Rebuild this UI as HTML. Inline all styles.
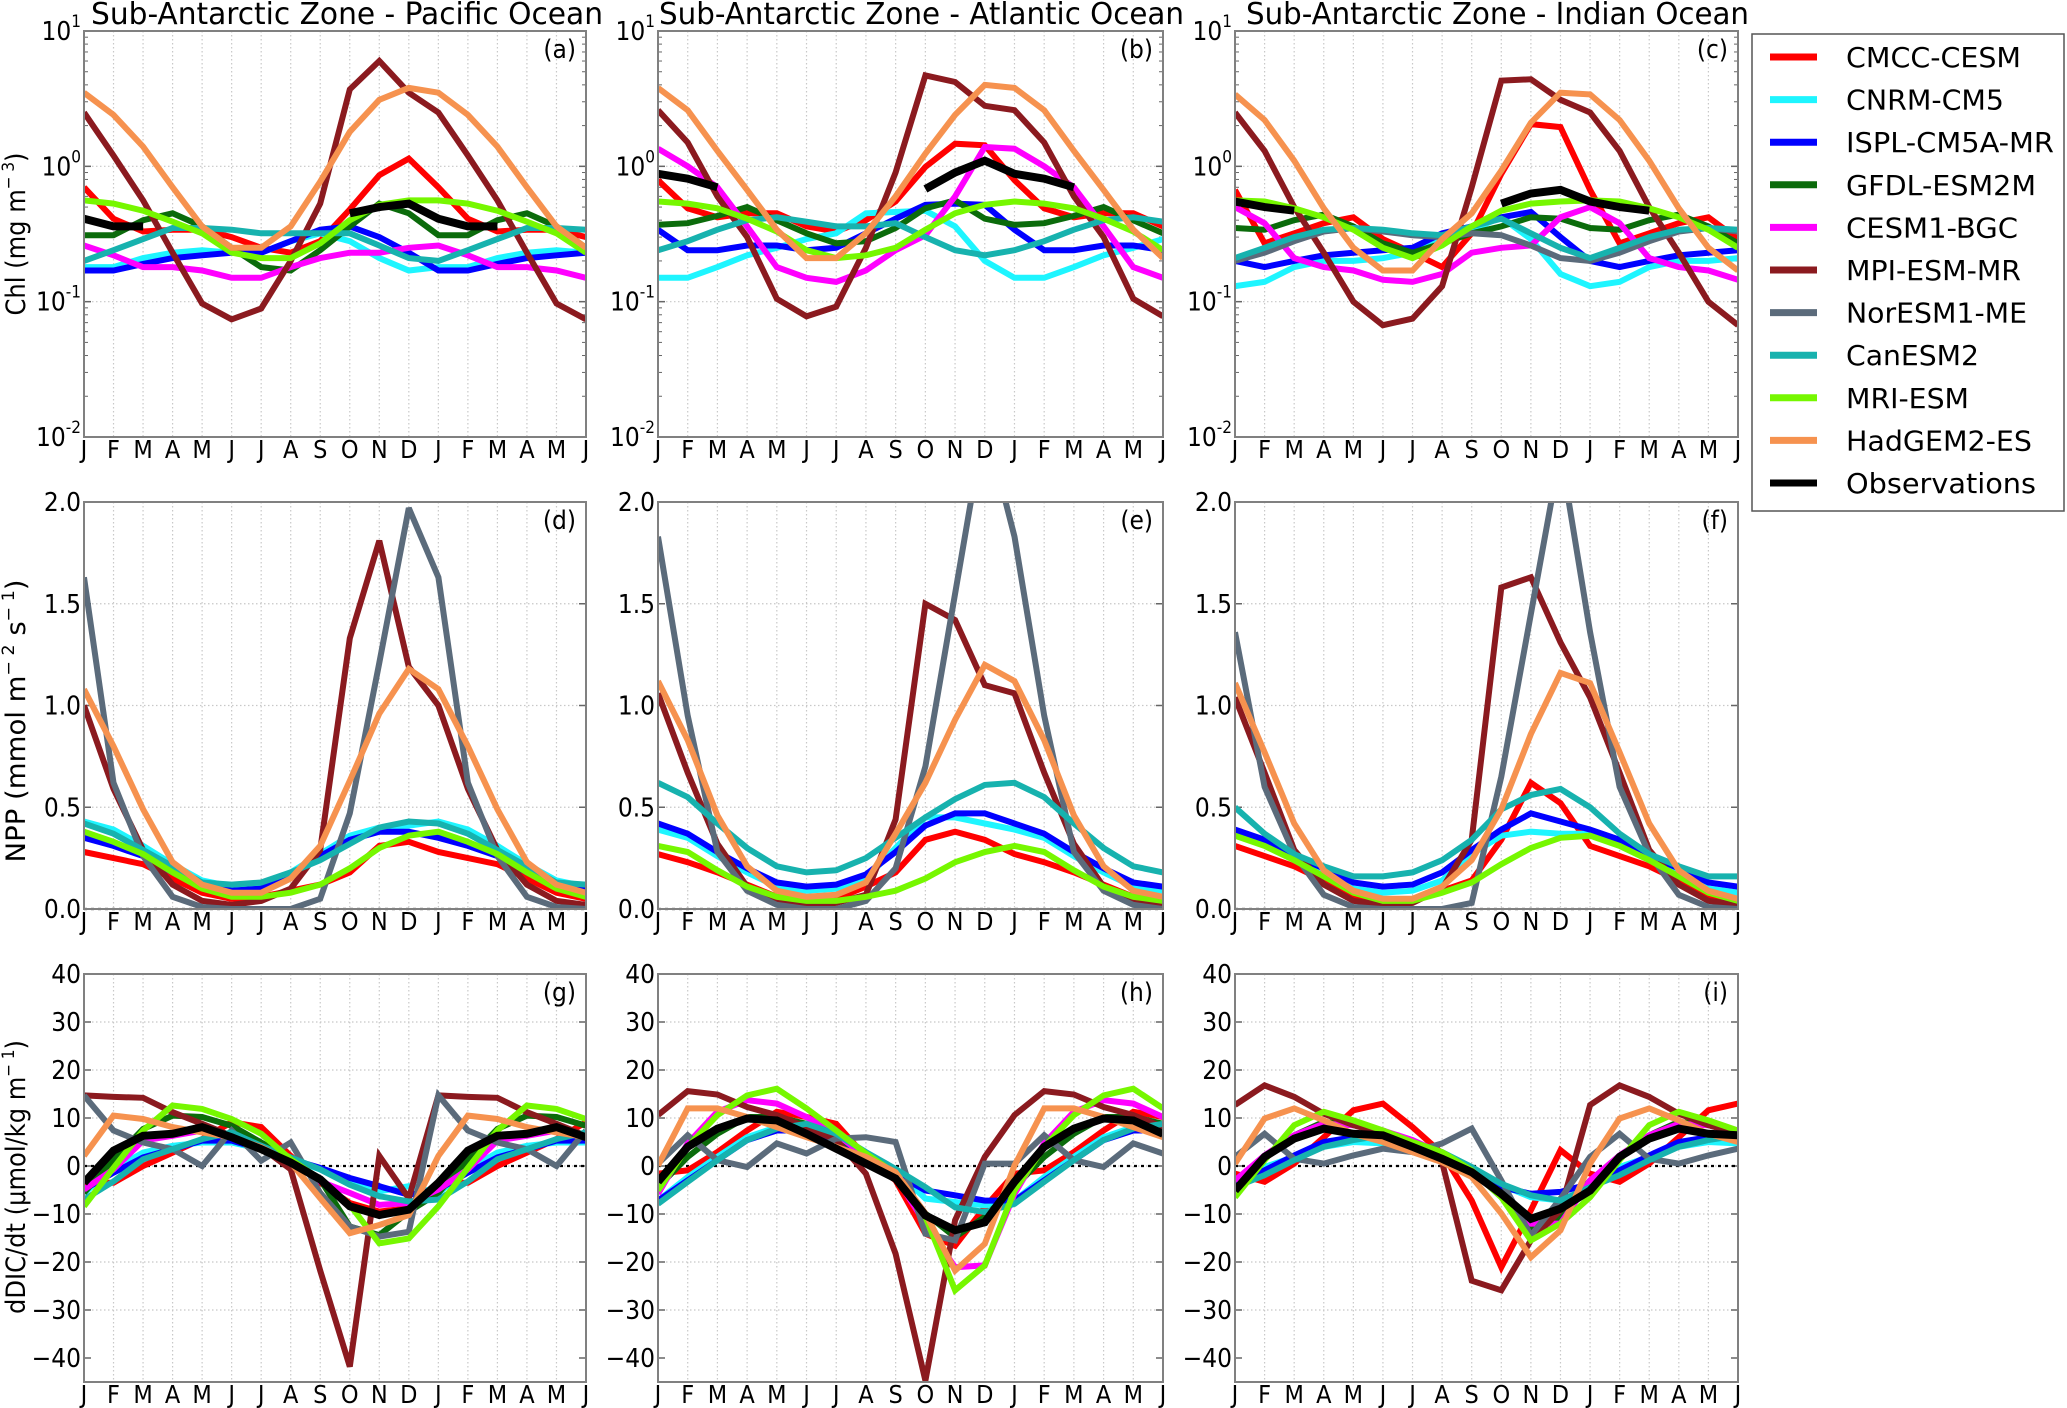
<!DOCTYPE html>
<html><head><meta charset="utf-8"><style>
html,body{margin:0;padding:0;background:#fff;}
svg{display:block;font-family:"DejaVu Sans Condensed","DejaVu Sans","Liberation Sans",sans-serif;font-stretch:condensed;}
</style></head><body>
<svg id="fig" width="2067" height="1408" viewBox="0 0 2067 1408" xmlns="http://www.w3.org/2000/svg"></svg>
<script>
const months = ['J','F','M','A','M','J','J','A','S','O','N','D','J','F','M','A','M','J'];
const models = ['CMCC-CESM','CNRM-CM5','ISPL-CM5A-MR','GFDL-ESM2M','CESM1-BGC','MPI-ESM-MR','NorESM1-ME','CanESM2','MRI-ESM','HadGEM2-ES','Observations'];
const colors = ['#ff0000','#1ef5ff','#0000ff','#0b6b0b','#ff00ff','#8b1a1f','#5b6b7b','#17b2ae','#76f700','#f6924f','#000000'];
const legendWidths = [175,158,208,190,172,175,181,133,123,186,190];
const titles = ['Sub-Antarctic Zone - Pacific Ocean','Sub-Antarctic Zone - Atlantic Ocean','Sub-Antarctic Zone - Indian Ocean'];
const panelLetters = ['(a)','(b)','(c)','(d)','(e)','(f)','(g)','(h)','(i)'];
const N = null;
// monthly values J..D, model order as in `models`
const chlPacific = [
 [0.7,0.41,0.33,0.34,0.34,0.3,0.25,0.23,0.28,0.48,0.86,1.14],
 [0.18,0.18,0.21,0.23,0.24,0.23,0.23,0.28,0.32,0.28,0.21,0.17],
 [0.17,0.17,0.19,0.21,0.22,0.23,0.23,0.28,0.34,0.36,0.3,0.23],
 [0.31,0.31,0.4,0.45,0.36,0.25,0.18,0.17,0.24,0.36,0.53,0.45],
 [0.26,0.22,0.18,0.18,0.17,0.15,0.15,0.18,0.21,0.23,0.23,0.25],
 [2.5,1.2,0.56,0.23,0.097,0.074,0.089,0.2,0.53,3.7,6.0,3.5],
 null,
 [0.2,0.24,0.29,0.35,0.35,0.34,0.32,0.32,0.32,0.32,0.26,0.21],
 [0.56,0.53,0.47,0.39,0.32,0.23,0.21,0.21,0.27,0.4,0.52,0.56],
 [3.5,2.4,1.4,0.7,0.36,0.25,0.25,0.36,0.77,1.8,3.1,3.8],
 [0.41,0.36,0.36,N,N,N,N,N,N,0.45,0.5,0.53]];
const chlAtlantic = [
 [0.79,0.49,0.42,0.45,0.45,0.36,0.33,0.4,0.55,0.99,1.47,1.43],
 [0.15,0.15,0.18,0.22,0.25,0.29,0.32,0.45,0.46,0.47,0.36,0.2],
 [0.34,0.24,0.24,0.26,0.26,0.24,0.25,0.32,0.41,0.52,0.53,0.52],
 [0.37,0.38,0.43,0.5,0.4,0.32,0.27,0.28,0.35,0.49,0.56,0.41],
 [1.35,1.0,0.7,0.36,0.18,0.15,0.14,0.17,0.24,0.31,0.6,1.39],
 [2.6,1.5,0.6,0.3,0.105,0.078,0.092,0.25,0.9,4.7,4.2,2.8],
 null,
 [0.24,0.28,0.34,0.4,0.42,0.39,0.36,0.36,0.38,0.3,0.24,0.22],
 [0.55,0.53,0.49,0.41,0.33,0.24,0.21,0.22,0.25,0.34,0.45,0.52],
 [3.8,2.6,1.3,0.67,0.34,0.21,0.21,0.32,0.6,1.24,2.4,4.0],
 [0.88,0.81,0.7,N,N,N,N,N,N,0.68,0.9,1.1]];
const chlIndian = [
 [0.67,0.27,0.32,0.38,0.42,0.29,0.23,0.18,0.32,0.88,2.05,1.95],
 [0.13,0.14,0.18,0.2,0.2,0.21,0.23,0.29,0.34,0.42,0.29,0.16],
 [0.2,0.18,0.2,0.22,0.23,0.24,0.25,0.32,0.36,0.42,0.46,0.3],
 [0.35,0.34,0.4,0.44,0.36,0.27,0.23,0.27,0.32,0.36,0.42,0.41],
 [0.5,0.38,0.21,0.18,0.17,0.145,0.14,0.16,0.23,0.25,0.26,0.42],
 [2.5,1.3,0.5,0.23,0.1,0.067,0.075,0.13,0.7,4.3,4.4,3.1],
 [0.2,0.23,0.28,0.33,0.35,0.33,0.31,0.3,0.32,0.31,0.26,0.21],
 [0.21,0.25,0.3,0.34,0.35,0.34,0.32,0.31,0.36,0.41,0.32,0.25],
 [0.56,0.55,0.49,0.42,0.34,0.25,0.21,0.26,0.36,0.47,0.53,0.55],
 [3.4,2.2,1.1,0.49,0.25,0.17,0.17,0.29,0.45,0.93,2.1,3.5],
 [0.55,0.5,0.47,N,N,N,N,N,N,0.53,0.63,0.67]];
const nppPacific = [
 [0.28,0.25,0.22,0.15,0.08,0.05,0.06,0.09,0.12,0.18,0.31,0.33],
 [0.43,0.39,0.31,0.22,0.14,0.11,0.12,0.18,0.27,0.36,0.4,0.41],
 [0.35,0.31,0.26,0.18,0.12,0.09,0.1,0.16,0.26,0.34,0.38,0.38],
 null, null,
 [1.0,0.59,0.29,0.12,0.04,0.02,0.04,0.1,0.29,1.33,1.81,1.19],
 [1.63,0.62,0.26,0.06,0.01,0,0,0,0.05,0.47,1.21,1.97],
 [0.42,0.37,0.29,0.21,0.13,0.12,0.13,0.18,0.24,0.32,0.4,0.43],
 [0.38,0.33,0.27,0.18,0.1,0.06,0.06,0.08,0.12,0.2,0.3,0.36],
 [1.08,0.8,0.49,0.23,0.12,0.08,0.08,0.15,0.31,0.63,0.96,1.18],
 null];
const nppAtlantic = [
 [0.27,0.23,0.18,0.12,0.06,0.04,0.05,0.11,0.18,0.34,0.38,0.34],
 [0.39,0.35,0.26,0.18,0.11,0.09,0.1,0.15,0.3,0.45,0.45,0.42],
 [0.42,0.37,0.28,0.2,0.13,0.11,0.12,0.17,0.28,0.41,0.47,0.47],
 null, null,
 [1.06,0.67,0.32,0.11,0.03,0.02,0.03,0.07,0.44,1.5,1.42,1.1],
 [1.83,0.95,0.28,0.09,0.02,0,0,0.04,0.2,0.7,1.55,2.4],
 [0.62,0.55,0.42,0.3,0.21,0.18,0.19,0.25,0.35,0.45,0.54,0.61],
 [0.31,0.28,0.19,0.11,0.06,0.04,0.04,0.06,0.09,0.15,0.23,0.28],
 [1.12,0.83,0.46,0.21,0.09,0.06,0.07,0.13,0.37,0.62,0.93,1.2],
 null];
const nppIndian = [
 [0.31,0.26,0.21,0.14,0.06,0.04,0.04,0.09,0.14,0.34,0.62,0.52],
 [0.37,0.32,0.24,0.18,0.1,0.08,0.09,0.14,0.27,0.36,0.38,0.37],
 [0.39,0.34,0.26,0.2,0.13,0.11,0.12,0.18,0.29,0.39,0.47,0.43],
 null, null,
 [1.04,0.67,0.29,0.12,0.04,0.02,0.03,0.1,0.34,1.58,1.63,1.31],
 [1.36,0.6,0.27,0.07,0.01,0,0,0,0.03,0.65,1.45,2.25],
 [0.5,0.37,0.27,0.21,0.16,0.16,0.18,0.24,0.34,0.49,0.56,0.59],
 [0.36,0.31,0.24,0.16,0.08,0.04,0.04,0.08,0.13,0.22,0.3,0.35],
 [1.11,0.77,0.42,0.19,0.09,0.05,0.05,0.11,0.24,0.49,0.86,1.16],
 null];
const dicPacific = [
 [-3.5,-3.5,0,2.8,5.6,9.1,8.1,2.1,-3.5,-7.7,-9.5,-8.8],
 [-5.6,-0.7,2.8,4.2,4.9,4.9,3.5,1.4,-0.7,-3.2,-5.3,-4.2],
 [-4.9,-1.4,1.8,3.5,5.3,5.3,3.5,1.4,-0.4,-2.5,-4.2,-6],
 [-5.6,1.4,7.7,10.5,10.2,8.4,4.9,1.4,-2.8,-12.6,-14.4,-9.5],
 [-4.9,-0.7,5.3,6.3,7.4,6.3,4.2,1.1,-3.2,-5.6,-8.1,-7.7],
 [14.7,14.4,14.2,11.2,8.8,6.3,3.9,-0.7,-21.8,-41.8,2.1,-6.7],
 [14.7,7.4,4.9,3.5,0,7.4,1.1,4.9,-5.6,-12.6,-14.7,-13.7],
 [-7,-3.2,1.4,3.5,5.6,7,4.2,1.8,-0.7,-3.9,-6.3,-7.4],
 [-8.4,-0.4,7.4,12.6,11.9,9.8,6.7,1.4,-2.8,-8.1,-16.1,-15.1],
 [2.1,10.5,9.8,8.1,7,6,3.9,0.7,-6.7,-14,-12.3,-10.2],
 [-3.5,3.2,6.3,6.7,8.1,6,3.5,0.7,-2.8,-8.4,-10.2,-9.1]];
const dicAtlantic = [
 [-1.6,-0.9,2.9,7.4,11.3,10.2,8.8,1.9,-3,-14.1,-16.6,-8.6],
 [-7.2,-2.3,1.9,6,8.1,8.8,6,2.6,-0.9,-6.8,-7.5,-8.2],
 [-7.2,-3,1.2,5.4,7.4,7.4,5.4,2.6,-1.6,-5.1,-6.1,-7.2],
 [-4.4,1.9,6.7,10.2,10.2,8.8,6,2.6,-1.6,-9.9,-14.8,-10.6],
 [-5.8,4.7,11.3,13.7,13,10.2,6.7,1.9,-2.3,-12,-21.1,-20.7],
 [10.6,15.6,14.9,12.3,10.6,8.1,5.4,-1.6,-18.3,-44.7,-11.3,1.9],
 [0.5,6.4,1.2,-0.2,4.7,2.6,5.7,6,5,-14.1,-15.5,0.5],
 [-7.9,-3.3,1.2,5.4,7.8,8.8,6.7,2.9,-0.6,-4.4,-8.6,-9.6],
 [-5.1,4,10.6,14.7,16.1,12,7.4,2.6,-1.6,-10.6,-25.9,-20.7],
 [0.1,12,12,10.2,8.1,6,4,1.9,-1.3,-9.9,-21.8,-16.2],
 [-3.3,4,7.8,9.9,9.5,6.7,3.6,0.5,-2.6,-10.3,-13.4,-11.7]];
const dicIndian = [
 [-1.6,-3.3,0.5,6,11.6,13,8.1,2.6,-7.2,-21.1,-9.2,3.3],
 [-4.4,-0.2,1.9,4,5,4.7,4,2.6,-0.6,-4,-6.5,-7.2],
 [-3.7,-0.9,2.2,5,6,6.7,5,2.6,-0.9,-4.4,-5.8,-5.4],
 [-3,1.9,6.4,9.2,8.5,7.4,5,2.6,-0.9,-6.5,-13.4,-10.6],
 [-3,2.2,6.4,8.8,8.5,7.4,5.4,2.6,-0.9,-5.8,-12,-12],
 [12.7,16.8,14.4,10.9,8.5,6.7,4.3,0.8,-23.9,-25.9,-15.5,-9.2],
 [1.9,6.7,1.5,0.5,2.2,3.6,2.9,4.7,7.8,-3,-14.5,-6.8],
 [-4.4,-1.9,1.2,4,5.4,6.4,5,2.9,-0.2,-3.7,-6.1,-7.2],
 [-6.5,1.2,8.5,11.3,9.5,7.4,5,2.9,-0.9,-6.5,-15.5,-12],
 [0.5,9.9,12,9.5,6.7,5,2.9,0.8,-2.3,-9.9,-19,-13.4],
 [-5.1,1.9,5.7,7.8,6.7,6.4,4,1.5,-1.3,-5.8,-11,-8.9]];
const chlTicks = [-2,-1,0,1];
const nppTicks = [0,0.5,1.0,1.5,2.0];
const nppTickLabels = ['0.0','0.5','1.0','1.5','2.0'];
const dicTicks = [-40,-30,-20,-10,0,10,20,30,40];
const dicTickLabels = ['\u221240','\u221230','\u221220','\u221210','0','10','20','30','40'];

const NS='http://www.w3.org/2000/svg';
const svg=document.getElementById('fig');
function el(tag,attrs,parent){const e=document.createElementNS(NS,tag);for(const k in attrs)e.setAttribute(k,attrs[k]);(parent||svg).appendChild(e);return e;}

const cols=[[84,586],[658,1163],[1235,1738]];
const rows=[[31,437],[502,909],[974,1382]];
const rowData=[[chlPacific,chlAtlantic,chlIndian],[nppPacific,nppAtlantic,nppIndian],[dicPacific,dicAtlantic,dicIndian]];
const rowNames=['chl','npp','dic'];
const oceanNames=['pacific','atlantic','indian'];

function yScaleFor(r,y0,y1){
  if(r===0) return v=>y1-(Math.log10(Math.max(v,1e-3))+2)/3*(y1-y0);
  if(r===1) return v=>y1-(v/2)*(y1-y0);
  return v=>y1-(v+45)/85*(y1-y0);
}

for(let r=0;r<3;r++){
  const [y0,y1]=rows[r];
  for(let c=0;c<3;c++){
    const [x0,x1]=cols[c];
    const g=el('g',{});
    
    
    const xs=i=>x0+i*(x1-x0)/17;
    const ys=yScaleFor(r,y0,y1);
    for(let i=1;i<17;i++) el('line',{x1:xs(i),x2:xs(i),y1:y0,y2:y1,stroke:'#c8c8c8','stroke-width':1.2,'stroke-dasharray':'1.5,2.5'},g);
    const ticks=r===0?chlTicks:(r===1?nppTicks:dicTicks);
    ticks.forEach((t,k)=>{
      const tv=r===0?Math.pow(10,t):t;
      const yy=ys(tv);
      if(k>0&&k<ticks.length-1) el('line',{x1:x0,x2:x1,y1:yy,y2:yy,stroke:'#c8c8c8','stroke-width':1.2,'stroke-dasharray':'1.5,2.5'},g);
      el('line',{x1:x0,x2:x0+7,y1:yy,y2:yy,stroke:'#666','stroke-width':1.5},g);
      el('line',{x1:x1-7,x2:x1,y1:yy,y2:yy,stroke:'#666','stroke-width':1.5},g);
      const tl=el('text',{x:x0-3,y:yy+9,'text-anchor':'end','font-size':26,fill:'#000'},g);
      
      
      if(r===0){
        tl.textContent='10';
        const sp=el('tspan',{dy:-13,'font-size':17},tl);sp.textContent=String(t);
      } else tl.textContent=(r===1?nppTickLabels:dicTickLabels)[k];
    });
    if(r===0){
      for(let d=-2;d<1;d++)for(let m=2;m<10;m++){const yy=ys(m*Math.pow(10,d));
        el('line',{x1:x0,x2:x0+4,y1:yy,y2:yy,stroke:'#666','stroke-width':1},g);
        el('line',{x1:x1-4,x2:x1,y1:yy,y2:yy,stroke:'#666','stroke-width':1},g);}
    }
    if(r>0){const yz=ys(0);const zl=el('line',{x1:x0,x2:x1,y1:yz,y2:yz,stroke:'#000','stroke-width':2.2,'stroke-dasharray':'3,4'},g);
      }
    const cid=`clip${r}${c}`;
    const cp=el('clipPath',{id:cid},g);el('rect',{x:x0,y:y0,width:x1-x0,height:y1-y0},cp);
    const sg=el('g',{'clip-path':`url(#${cid})`},g);
    const data=rowData[r][c];
    data.forEach((ser,mi)=>{
      if(!ser) return;
      const vals=months.map((_,i)=>ser[i%12]);
      let segs=[],cur=[];
      vals.forEach((v,i)=>{if(v===null){if(cur.length)segs.push(cur);cur=[];}else cur.push(xs(i).toFixed(1)+','+ys(v).toFixed(1));});
      if(cur.length)segs.push(cur);
      segs.forEach(s=>{
        const p=el('polyline',{points:s.join(' '),fill:'none',stroke:colors[mi],'stroke-width':mi===10?8:6,'stroke-linejoin':'miter','stroke-miterlimit':3},sg);
        
        
      });
    });
    el('rect',{x:x0,y:y0,width:x1-x0,height:y1-y0,fill:'none',stroke:'#808080','stroke-width':2},g);
    months.forEach((m,i)=>{
      const t=el('text',{x:xs(i),y:y1+21,'text-anchor':'middle','font-size':25,fill:'#000'},g);
      t.textContent=m;
      
      
    });
    const pl=el('text',{x:x1-10,y:y0+27,'text-anchor':'end','font-size':26,fill:'#000'},g);
    pl.textContent=panelLetters[r*3+c];
    
    
    if(r===0){
      const tt=el('text',{x:[91,659,1246][c],y:24,'font-size':30,textLength:[512,525,503][c],lengthAdjust:'spacingAndGlyphs',fill:'#000'});
      tt.textContent=titles[c];
      
      
    }
  }
}
function ylab(cx,cy,len,parts,name){
  const t=el('text',{x:0,y:0,transform:`translate(${cx},${cy}) rotate(-90)`,'text-anchor':'middle','font-size':27,textLength:len,lengthAdjust:'spacingAndGlyphs',fill:'#000'});
  
  
  parts.forEach(p=>{const s=el('tspan',p.sup?{dy:p.dy,'font-size':17}:{dy:p.dy||0},t);s.textContent=p.t;});
}
ylab(25,234,163,[{t:'Chl (mg m'},{t:'\u2212 3',sup:1,dy:-11},{t:')',dy:11}],'y-axis-title-chl');
ylab(25,721,283,[{t:'NPP (mmol m'},{t:'\u2212 2',sup:1,dy:-11},{t:' s',dy:11},{t:'\u2212 1',sup:1,dy:-11},{t:')',dy:11}],'y-axis-title-npp');
ylab(25,1177,274,[{t:'dDIC/dt (\u03bcmol/kg m'},{t:'\u2212 1',sup:1,dy:-11},{t:')',dy:11}],'y-axis-title-ddic');
const lg=el('g',{});


el('rect',{x:1752,y:34,width:312,height:477,fill:'#fff',stroke:'#555','stroke-width':1.5},lg);
models.forEach((m,i)=>{
  const yy=57+i*42.6;
  const e=el('g',{},lg);
  
  
  el('line',{x1:1770,x2:1817,y1:yy,y2:yy,stroke:colors[i],'stroke-width':7},e);
  const t=el('text',{x:1846,y:yy+10,'font-size':28,textLength:legendWidths[i],lengthAdjust:'spacingAndGlyphs',fill:'#000'},e);
  t.textContent=m;
});
</script>
</body></html>
